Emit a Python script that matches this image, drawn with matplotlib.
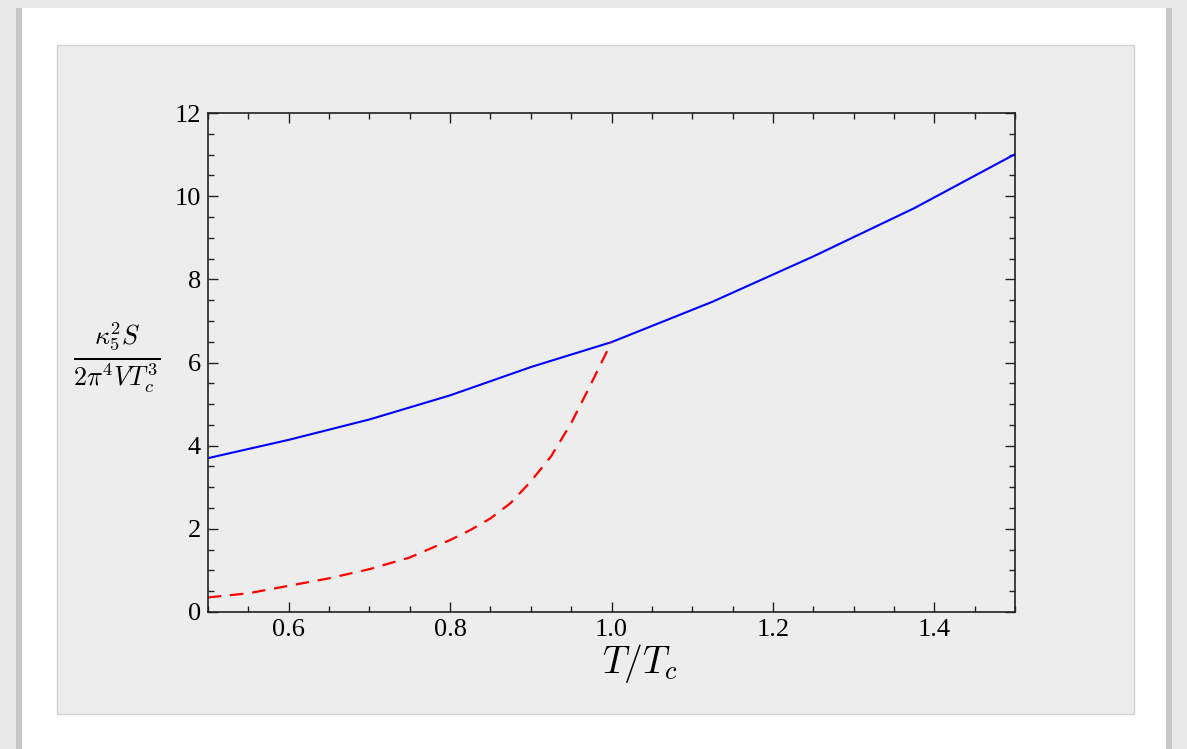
import numpy as np
import matplotlib
matplotlib.use("Agg")
import matplotlib.pyplot as plt
from matplotlib.patches import Rectangle
from matplotlib.ticker import MultipleLocator

# values
t_upper = [0.5, 0.6, 0.7, 0.8, 0.9, 1.0, 1.125, 1.25, 1.375, 1.5]
s_upper = [3.70, 4.14, 4.63, 5.21, 5.89, 6.49, 7.46, 8.55, 9.71, 11.01]

t_lower = [0.5, 0.55, 0.6, 0.65, 0.7, 0.75, 0.8, 0.825, 0.85, 0.875, 0.9, 0.925, 0.95, 0.975, 1.0]
s_lower = [0.35, 0.45, 0.63, 0.81, 1.03, 1.31, 1.73, 1.97, 2.25, 2.62, 3.14, 3.74, 4.54, 5.5, 6.49]

plt.rcParams['mathtext.fontset'] = 'cm'
plt.rcParams['font.family'] = ['Liberation Serif', 'DejaVu Serif']

W, H = 1187, 749
fig = plt.figure(figsize=(W / 100, H / 100), dpi=100)
fig.patch.set_facecolor('#e9e9e9')

# white card + inner grey panel
def px_rect(x0, y0, x1, y1, **kw):
    fig.patches.append(Rectangle((x0 / W, 1 - y1 / H), (x1 - x0) / W, (y1 - y0) / H,
                                 transform=fig.transFigure, **kw))

px_rect(16, 8, 1172, 760, facecolor='#c8c8c8', edgecolor='none', zorder=-3)
px_rect(22, 8, 1166, 760, facecolor='white', edgecolor='none', zorder=-2)
px_rect(57, 45, 1134, 714, facecolor='#ededed', edgecolor='#d2d2d2', linewidth=1.0, zorder=-1)

ax = fig.add_axes([208 / W, 1 - 612 / H, (1015 - 208) / W, (612 - 113) / H])
ax.set_facecolor('none')
ax.set_zorder(2)

ax.plot(t_upper, s_upper, color='blue', linewidth=1.5)
ax.plot(t_lower, s_lower, color='red', linewidth=1.6, dashes=(6, 4))

ax.set_xlim(0.5, 1.5)
ax.set_ylim(0, 12)
ax.xaxis.set_major_locator(MultipleLocator(0.2))
ax.xaxis.set_minor_locator(MultipleLocator(0.05))
ax.yaxis.set_major_locator(MultipleLocator(2))
ax.yaxis.set_minor_locator(MultipleLocator(0.5))
ax.xaxis.set_major_formatter(matplotlib.ticker.FormatStrFormatter('%.1f'))

ax.tick_params(which='both', direction='in', top=True, right=True, width=1.0, color='#222222')
ax.tick_params(which='major', length=7, labelsize=19, pad=5)
ax.tick_params(which='minor', length=4)
for s in ax.spines.values():
    s.set_linewidth(1.2)
    s.set_color('#222222')

fig.text(640 / W, 1 - 642 / H, r'$T/T_c$', fontsize=27, ha='center', va='top', zorder=3)
fig.text(117 / W, 1 - 358 / H, r'$\frac{\kappa_5^2 S}{2\pi^4 V T_c^3}$', fontsize=27,
         ha='center', va='center', zorder=3)

fig.savefig('out.png', dpi=100, facecolor=fig.get_facecolor())
